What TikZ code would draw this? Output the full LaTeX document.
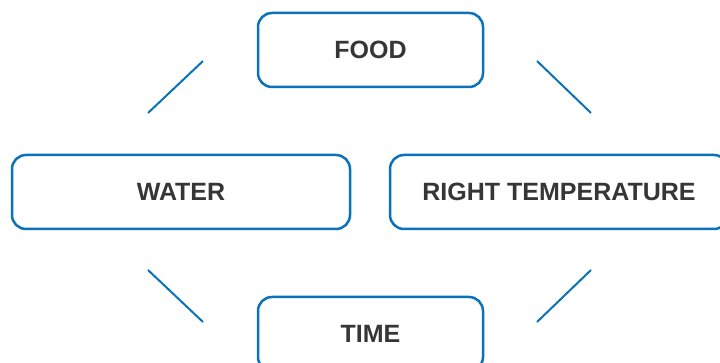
\documentclass[tikz,border=0pt]{standalone}
\usepackage{fontspec}
\setmainfont{Liberation Sans}
\definecolor{boxblue}{HTML}{0A72BA}
\definecolor{txtgray}{HTML}{363636}
\tikzset{
  need/.style={draw=boxblue, line width=2.5pt, rounded corners=14pt, fill=white,
    minimum height=74pt, text=txtgray, font=\fontsize{25}{30}\selectfont\bfseries},
  link/.style={draw=boxblue, line width=2pt}
}
\begin{document}
\begin{tikzpicture}[x=1pt,y=-1pt]
    \clip (0,0) rectangle (720,363);
    \useasboundingbox (0,0) rectangle (720,363);
    % the four things a seed needs
    \node[need, minimum width=225pt] (food) at (370.5,50) {FOOD};
    \node[need, minimum width=338pt] (water) at (181,192) {WATER};
    \node[need, minimum width=338pt] (temp) at (559,192) {RIGHT TEMPERATURE};
    \node[need, minimum width=225pt] (time) at (370.5,334) {TIME};
    % diagonal strokes between them
    \coordinate (wf1) at (148,113); \coordinate (wf2) at (203,61);
    \coordinate (ft1) at (537,61);  \coordinate (ft2) at (591,113);
    \coordinate (wt1) at (148,270); \coordinate (wt2) at (203,322);
    \coordinate (tt1) at (537,322); \coordinate (tt2) at (591,270);
    \draw[link] (wf1) -- (wf2);
    \draw[link] (ft1) -- (ft2);
    \draw[link] (wt1) -- (wt2);
    \draw[link] (tt1) -- (tt2);
\end{tikzpicture}
\end{document}
